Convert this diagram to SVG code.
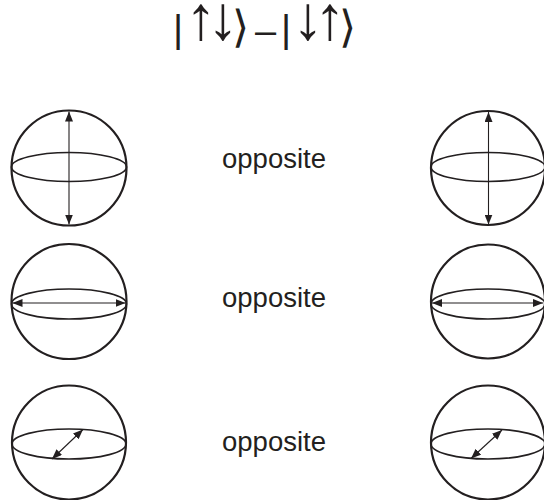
<svg xmlns="http://www.w3.org/2000/svg" width="544" height="500" viewBox="0 0 544 500">
<style>
.sphere{fill:none;stroke:#231f20;stroke-width:2.2}
.eq{fill:none;stroke:#231f20;stroke-width:1.6}
.vec{fill:none;stroke:#231f20;stroke-width:1.1;marker-start:url(#ah);marker-end:url(#ah)}
.lbl{font-family:"Liberation Sans",Arial,sans-serif;font-size:27.5px;fill:#231f20;text-anchor:middle}
.ket{font-family:"DejaVu Sans",sans-serif;fill:#231f20;text-anchor:middle}
.bar{font-family:"Liberation Sans",Arial,sans-serif;font-size:39px}
.arr{font-family:"Liberation Sans",Arial,sans-serif;font-size:62px}
.brk{font-size:44px;font-weight:200}
.dash{font-family:"Liberation Sans",Arial,sans-serif;font-size:38px}
</style>
<defs>
<marker id="ah" viewBox="0 0 10 8" refX="10" refY="4" markerWidth="10" markerHeight="8" markerUnits="userSpaceOnUse" orient="auto-start-reverse">
<path d="M0,0 L10,4 L0,8 Z" fill="#231f20"/>
</marker>
</defs>
<g id="title">
<text class="ket"><tspan class="bar" x="178" y="42">|</tspan><tspan class="arr" x="201" y="39">↑</tspan><tspan class="arr" x="223" y="39">↓</tspan><tspan class="brk" x="240" y="42">⟩</tspan><tspan class="dash" x="265.5" y="44">–</tspan><tspan class="bar" x="286" y="42">|</tspan><tspan class="arr" x="308" y="39">↓</tspan><tspan class="arr" x="330" y="39">↑</tspan><tspan class="brk" x="347" y="42">⟩</tspan></text>
</g>
<g id="sphere-l1">
<circle class="sphere" cx="69" cy="168" r="57.5"/>
<ellipse class="eq" cx="69" cy="167" rx="57.5" ry="14.5"/>
</g>
<g id="sphere-r1">
<circle class="sphere" cx="488" cy="168" r="57"/>
<ellipse class="eq" cx="488" cy="167" rx="57" ry="14.5"/>
</g>
<g id="sphere-l2">
<circle class="sphere" cx="69" cy="301.5" r="57.5"/>
<ellipse class="eq" cx="69" cy="304" rx="57.5" ry="15"/>
</g>
<g id="sphere-r2">
<circle class="sphere" cx="488" cy="301.5" r="57"/>
<ellipse class="eq" cx="488" cy="304" rx="57" ry="15"/>
</g>
<g id="sphere-l3">
<circle class="sphere" cx="69" cy="442.5" r="57"/>
<ellipse class="eq" cx="69" cy="444" rx="57" ry="15"/>
</g>
<g id="sphere-r3">
<circle class="sphere" cx="488" cy="442.5" r="57"/>
<ellipse class="eq" cx="488" cy="444" rx="57" ry="15"/>
</g>
<g id="labels">
<text class="lbl" x="274" y="168">opposite</text>
<text class="lbl" x="274" y="307">opposite</text>
<text class="lbl" x="274" y="451">opposite</text>
</g>
<g id="connectors">
<line class="vec" x1="69" y1="111.5" x2="69" y2="224.5"/>
<line class="vec" x1="488.5" y1="112" x2="488.5" y2="224.5"/>
<line class="vec" x1="12.5" y1="303" x2="125.5" y2="303"/>
<line class="vec" x1="432" y1="303" x2="543" y2="303"/>
<line class="vec" x1="52" y1="459" x2="83" y2="429.5"/>
<line class="vec" x1="471" y1="458.5" x2="502" y2="430"/>
</g>
</svg>
